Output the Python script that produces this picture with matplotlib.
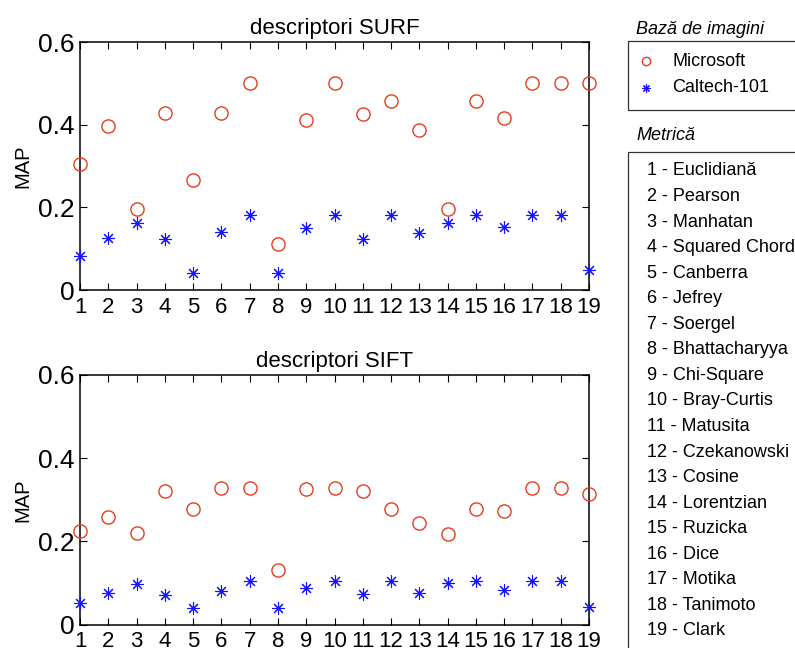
import numpy as np
import matplotlib.pyplot as plt
from matplotlib.patches import Rectangle
from matplotlib.lines import Line2D

plt.rcParams['font.family'] = ['Liberation Sans', 'DejaVu Sans']

metrics = np.arange(1, 20)
metric_names = ['Euclidiană', 'Pearson', 'Manhatan', 'Squared Chord', 'Canberra',
                'Jefrey', 'Soergel', 'Bhattacharyya', 'Chi-Square', 'Bray-Curtis',
                'Matusita', 'Czekanowski', 'Cosine', 'Lorentzian', 'Ruzicka',
                'Dice', 'Motika', 'Tanimoto', 'Clark']

surf_microsoft = [0.305, 0.396, 0.196, 0.428, 0.265, 0.428, 0.500, 0.111, 0.411, 0.500,
                  0.426, 0.458, 0.388, 0.195, 0.458, 0.415, 0.500, 0.500, 0.500]
surf_caltech = [0.083, 0.126, 0.162, 0.124, 0.042, 0.140, 0.182, 0.042, 0.150, 0.182,
                0.124, 0.182, 0.138, 0.162, 0.182, 0.152, 0.182, 0.182, 0.048]
sift_microsoft = [0.225, 0.258, 0.220, 0.321, 0.278, 0.329, 0.329, 0.132, 0.326, 0.329,
                  0.321, 0.278, 0.245, 0.218, 0.278, 0.274, 0.329, 0.329, 0.315]
sift_caltech = [0.051, 0.075, 0.098, 0.072, 0.039, 0.081, 0.105, 0.039, 0.088, 0.105,
                0.073, 0.105, 0.075, 0.099, 0.105, 0.084, 0.105, 0.105, 0.042]

W, H = 795, 648
red = '#e63c1e'
blue = '#1414ff'
asterisk = (8, 2, 0)

fig = plt.figure(figsize=(W / 100, H / 100), dpi=100)


def px(x0, y0, x1, y1):
    # pixel box -> figure fraction rect
    return [x0 / W, 1 - y1 / H, (x1 - x0) / W, (y1 - y0) / H]


def panel(rect, title, micro, calt):
    ax = fig.add_axes(rect)
    ax.plot(metrics, micro, linestyle='none', marker='o', ms=9.5, mfc='none',
            mec=red, mew=1.0, clip_on=False, zorder=3)
    ax.plot(metrics, calt, linestyle='none', marker=asterisk, ms=9, color=blue,
            mew=0.8, clip_on=False, zorder=3)
    ax.set_xlim(1, 19)
    ax.set_ylim(0, 0.6)
    ax.set_xticks(metrics)
    ax.set_yticks([0, 0.2, 0.4, 0.6])
    ax.set_yticklabels(['0', '0.2', '0.4', '0.6'])
    ax.tick_params(axis='x', direction='in', top=True, length=5, labelsize=16, pad=5)
    ax.tick_params(axis='y', direction='in', right=True, length=5, labelsize=19, pad=4)
    for s in ax.spines.values():
        s.set_linewidth(1.1)
    ax.set_title(title, fontsize=16, pad=6)
    ax.set_ylabel('MAP', fontsize=14.5, labelpad=4)
    return ax


panel(px(80, 42, 589, 290), 'descriptori SURF', surf_microsoft, surf_caltech)
panel(px(80, 375, 589, 624.5), 'descriptori SIFT', sift_microsoft, sift_caltech)

# image database box
fig.text(636 / W, 1 - 29 / H, 'Bază de imagini', style='italic', fontsize=13, va='center')
fig.add_artist(Rectangle((628 / W, 1 - 110 / H), 200 / W, 69 / H, fill=False,
                         ec='#333333', lw=0.9, transform=fig.transFigure, clip_on=False))
fig.add_artist(Line2D([646 / W], [1 - 61 / H], marker='o', ms=6, mfc='none', mec=red,
                      mew=1.0, transform=fig.transFigure))
fig.add_artist(Line2D([646 / W], [1 - 88 / H], marker=asterisk, ms=6, color=blue,
                      mew=0.8, transform=fig.transFigure))
fig.text(672 / W, 1 - 61 / H, 'Microsoft', fontsize=13, va='center')
fig.text(672 / W, 1 - 88 / H, 'Caltech-101', fontsize=13, va='center')

# metric list box
fig.text(636 / W, 1 - 135 / H, 'Metrică', style='italic', fontsize=13, va='center')
fig.add_artist(Rectangle((628 / W, -0.05), 200 / W, 0.05 + 1 - 152 / H, fill=False,
                         ec='#333333', lw=0.9, transform=fig.transFigure, clip_on=False))
for i, name in enumerate(metric_names):
    fig.text(647 / W, 1 - (171 + i * 25.55) / H, f'{i + 1} - {name}', fontsize=13,
             va='center')

fig.savefig('out.png', dpi=100)
